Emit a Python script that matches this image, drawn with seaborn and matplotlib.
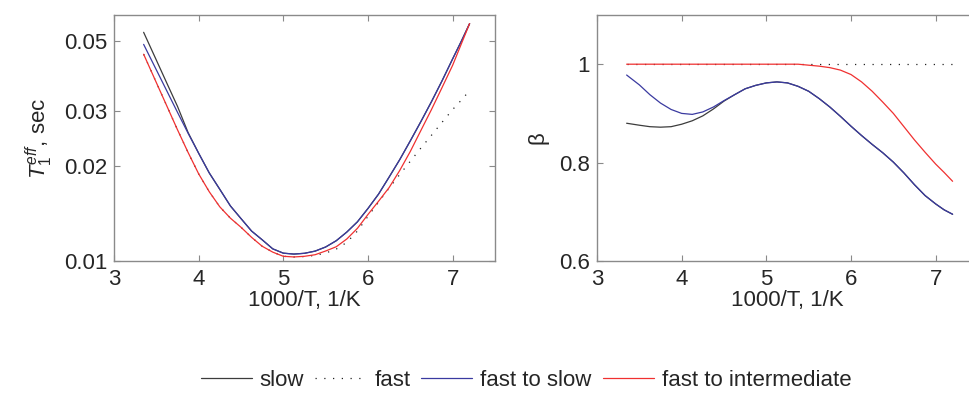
import numpy as np
import pandas as pd
import matplotlib
matplotlib.use('Agg')
import matplotlib.pyplot as plt
from matplotlib.ticker import FixedLocator, NullLocator, FixedFormatter
import seaborn as sns

# THE DATA *****************************************************************

inv_t = [3.35, 3.5, 3.625, 3.75, 3.875, 4.0, 4.125, 4.25, 4.375, 4.5, 4.625, 4.75, 4.875, 5.0, 5.125,
         5.25, 5.375, 5.5, 5.625, 5.75, 5.875, 6.0, 6.125, 6.25, 6.375, 6.5, 6.625, 6.75, 6.875, 7.0,
         7.1, 7.2]

# effective T1, sec
t1_slow = [0.0533, 0.0435, 0.0367, 0.0310, 0.0256, 0.0220, 0.01905, 0.01689, 0.01496, 0.01364, 0.01245,
           0.01168, 0.01093, 0.01059, 0.01052, 0.01058, 0.01075, 0.01108, 0.01160, 0.01236, 0.01332,
           0.01469, 0.01632, 0.01849, 0.0210, 0.0241, 0.02775, 0.0321, 0.0374, 0.0439, 0.0498, 0.0568]
t1_fast = [0.0454, 0.0369, 0.03105, 0.02612, 0.02213, 0.01892, 0.0166, 0.01486, 0.01368, 0.0128, 0.01189,
           0.01114, 0.01067, 0.01035, 0.0103, 0.01033, 0.01042, 0.0106, 0.01091, 0.01146, 0.01245,
           0.01387, 0.01538, 0.01706, 0.01884, 0.02075, 0.02286, 0.0251, 0.0276, 0.0303, 0.0324, 0.0348]
t1_fast_to_slow = [0.0488, 0.0405, 0.03467, 0.02968, 0.02547, 0.0220, 0.01905, 0.01689, 0.01496, 0.01364,
                   0.01245, 0.01168, 0.01093, 0.01059, 0.01052, 0.01058, 0.01075, 0.01108, 0.01160, 0.01236,
                   0.01332, 0.01469, 0.01632, 0.01849, 0.0210, 0.0241, 0.02775, 0.0321, 0.0374, 0.0439,
                   0.0498, 0.0568]
t1_fast_to_int = [0.0454, 0.0369, 0.03105, 0.02612, 0.02213, 0.01892, 0.0166, 0.01486, 0.01368, 0.0128,
                  0.01189, 0.01114, 0.01067, 0.01035, 0.0103, 0.01035, 0.01047, 0.01076, 0.0111, 0.01175,
                  0.0127, 0.01406, 0.01549, 0.01712, 0.0194, 0.0223, 0.0260, 0.0303, 0.0356, 0.0419,
                  0.0488, 0.0568]

# stretching exponent beta
beta_slow = [0.880, 0.876, 0.873, 0.872, 0.873, 0.878, 0.885, 0.895, 0.909, 0.925, 0.938, 0.950, 0.957,
             0.962, 0.964, 0.962, 0.955, 0.945, 0.930, 0.913, 0.894, 0.874, 0.855, 0.837, 0.820, 0.801,
             0.779, 0.755, 0.733, 0.716, 0.704, 0.695]
beta_fast = [1.0] * len(inv_t)
beta_fast_to_slow = [0.978, 0.958, 0.938, 0.921, 0.908, 0.900, 0.898, 0.903, 0.913, 0.926, 0.938, 0.950,
                     0.957, 0.962, 0.964, 0.962, 0.955, 0.945, 0.930, 0.913, 0.894, 0.874, 0.855, 0.837,
                     0.820, 0.801, 0.779, 0.755, 0.733, 0.716, 0.704, 0.695]
beta_fast_to_int = [1.0, 1.0, 1.0, 1.0, 1.0, 1.0, 1.0, 1.0, 1.0, 1.0, 1.0, 1.0, 1.0, 1.0, 1.0, 1.0, 1.0,
                    0.998, 0.996, 0.993, 0.988, 0.979, 0.964, 0.945, 0.923, 0.900, 0.873, 0.846, 0.821,
                    0.797, 0.780, 0.762]

models = ['slow', 'fast', 'fast to slow', 'fast to intermediate']
t1_values = [t1_slow, t1_fast, t1_fast_to_slow, t1_fast_to_int]
beta_values = [beta_slow, beta_fast, beta_fast_to_slow, beta_fast_to_int]

rows = []
for name, t1, b in zip(models, t1_values, beta_values):
    for xv, tv, bv in zip(inv_t, t1, b):
        rows.append({'x': xv, 't1': tv, 'beta': bv, 'model': name})
df = pd.DataFrame(rows)

# THE CHART ****************************************************************

sns.set_theme(style='ticks')
plt.rcParams['font.family'] = ['Liberation Sans', 'DejaVu Sans']
plt.rcParams['mathtext.fontset'] = 'custom'
plt.rcParams['mathtext.rm'] = 'Liberation Sans'
plt.rcParams['mathtext.it'] = 'Liberation Sans:italic'

colors = {'slow': '#3c3c3c', 'fast': '#222222', 'fast to slow': '#3a3aa0', 'fast to intermediate': '#f03030'}
dashes = {'slow': '', 'fast': (1, 6), 'fast to slow': '', 'fast to intermediate': ''}

fig = plt.figure(figsize=(9.69, 3.99), dpi=100)
ax1 = fig.add_axes([114 / 969, 138 / 399, 381 / 969, 246 / 399])
ax2 = fig.add_axes([597 / 969, 138 / 399, 381 / 969, 246 / 399])

spine_col = '#8a8a8a'
text_col = '#262626'

for ax, col in [(ax1, 't1'), (ax2, 'beta')]:
    sns.lineplot(data=df, x='x', y=col, hue='model', style='model', hue_order=models, style_order=models,
                 palette=colors, dashes=dashes, linewidth=0.9, ax=ax, legend=(ax is ax1))
    ax.set_xlim(3, 7.5)
    ax.xaxis.set_major_locator(FixedLocator([3, 4, 5, 6, 7]))
    ax.tick_params(direction='in', top=True, right=True, length=4, width=0.8, color=spine_col,
                   labelsize=16, labelcolor=text_col)
    ax.tick_params(axis='x', pad=6)
    ax.tick_params(axis='y', pad=5)
    for s in ax.spines.values():
        s.set_color(spine_col)
        s.set_linewidth(1.0)
    ax.set_xlabel('1000/T, 1/K', fontsize=16, color=text_col, labelpad=0)

ax1.set_yscale('log')
ax1.set_ylim(0.01, 0.0605)
ax1.yaxis.set_major_locator(FixedLocator([0.01, 0.02, 0.03, 0.05]))
ax1.yaxis.set_major_formatter(FixedFormatter(['0.01', '0.02', '0.03', '0.05']))
ax1.yaxis.set_minor_locator(NullLocator())
ax1.set_ylabel(r'$T_1^{eff}$, sec', fontsize=16, color=text_col, labelpad=6)

ax2.set_ylim(0.6, 1.1)
ax2.yaxis.set_major_locator(FixedLocator([0.6, 0.8, 1.0]))
ax2.yaxis.set_major_formatter(FixedFormatter(['0.6', '0.8', '1']))
ax2.set_ylabel('β', fontsize=16, color=text_col, labelpad=8)

h, l = ax1.get_legend_handles_labels()
ax1.legend().remove()
fig.legend(h, l, loc='center', bbox_to_anchor=(526 / 969, 19 / 399), ncol=4, frameon=False,
           fontsize=16, handlelength=2.3, handletextpad=0.35, columnspacing=0.5, labelcolor=text_col)

plt.savefig('out.png', dpi=100)
